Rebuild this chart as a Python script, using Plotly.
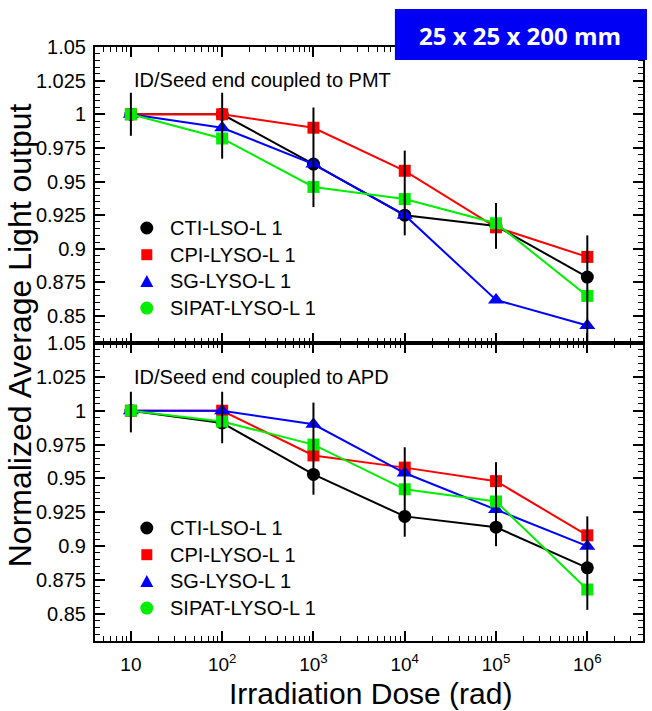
import plotly.graph_objects as go
from plotly.subplots import make_subplots

# ---------------- data ----------------
dose = [10, 100, 1000, 1e4, 1e5, 1e6]
series_names = ["CTI-LSO-L 1", "CPI-LYSO-L 1", "SG-LYSO-L 1", "SIPAT-LYSO-L 1"]

# Top panel: ID/Seed end coupled to PMT
pmt_cti = [1.000, 1.000, 0.963, 0.925, 0.917, 0.879]
pmt_cpi = [1.000, 1.000, 0.990, 0.958, 0.916, 0.894]
pmt_sg = [1.000, 0.990, 0.963, 0.925, 0.862, 0.843]
pmt_sipat = [1.000, 0.982, 0.946, 0.937, 0.919, 0.865]
pmt_err_top = [1.016, 1.016, 1.005, 0.973, 0.934, 0.910]
pmt_err_bottom = [0.984, 0.967, 0.931, 0.910, 0.900, 0.831]

# Bottom panel: ID/Seed end coupled to APD
apd_cti = [1.000, 0.991, 0.953, 0.922, 0.914, 0.884]
apd_cpi = [1.000, 1.000, 0.967, 0.958, 0.948, 0.908]
apd_sg = [1.000, 1.000, 0.990, 0.954, 0.927, 0.900]
apd_sipat = [1.000, 0.992, 0.975, 0.942, 0.933, 0.868]
apd_err_top = [1.014, 1.014, 1.006, 0.973, 0.962, 0.922]
apd_err_bottom = [0.984, 0.976, 0.938, 0.907, 0.900, 0.853]

panel_labels = ["ID/Seed end coupled to PMT", "ID/Seed end coupled to APD"]
y_tick_vals = [0.85, 0.875, 0.9, 0.925, 0.95, 0.975, 1.0, 1.025, 1.05]
y_tick_text = ["0.85", "0.875", "0.9", "0.925", "0.95", "0.975", "1", "1.025", "1.05"]
x_tick_vals = [10, 100, 1000, 1e4, 1e5, 1e6]
x_tick_text = ["10", "10<sup>2</sup>", "10<sup>3</sup>", "10<sup>4</sup>", "10<sup>5</sup>", "10<sup>6</sup>"]
box_text = "25 x 25 x 200 mm"
x_title = "Irradiation Dose (rad)"
y_title = "Normalized Average Light output"

# ---------------- styling ----------------
colors = ["#000000", "#ff0000", "#0000ff", "#00ee00"]
plot_symbols = ["circle", "square", "triangle-up", "square"]
plot_sizes = [13, 12, 14, 12]
legend_shapes = ["circle", "square", "triangle", "circle"]
FONT = "Liberation Sans, Arial, sans-serif"

W, H = 652, 711
L, R, T, B = 95, 645, 47, 641


def px_x(px):
    return (px - L) / (R - L)


def px_y(py):
    return (B - py) / (B - T)


split = px_y(343)

fig = make_subplots(rows=2, cols=1, shared_xaxes=True, vertical_spacing=0)

panels = [
    (1, [pmt_cti, pmt_cpi, pmt_sg, pmt_sipat], pmt_err_top, pmt_err_bottom),
    (2, [apd_cti, apd_cpi, apd_sg, apd_sipat], apd_err_top, apd_err_bottom),
]

for row, data, etop, ebot in panels:
    for name, vals, col, sym, sz in zip(series_names, data, colors, plot_symbols, plot_sizes):
        fig.add_trace(
            go.Scatter(
                x=dose, y=vals, mode="lines+markers", name=name, showlegend=False,
                line=dict(color=col, width=2),
                marker=dict(symbol=sym, size=sz, color=col, line=dict(width=0)),
            ),
            row=row, col=1,
        )
    center = data[0]
    fig.add_trace(
        go.Scatter(
            x=dose, y=center, mode="markers", showlegend=False, hoverinfo="skip",
            marker=dict(size=1, color="rgba(0,0,0,0)"),
            error_y=dict(
                type="data", symmetric=False,
                array=[t - c for t, c in zip(etop, center)],
                arrayminus=[c - b for c, b in zip(center, ebot)],
                color="black", thickness=2, width=0,
            ),
        ),
        row=row, col=1,
    )

minor_x = [k * 10 ** d for d in range(0, 7) for k in range(2, 10) if 4.05 <= k * 10 ** d <= 4.0e6]

xaxis_common = dict(
    type="log", range=[0.607, 6.61], showline=True, linecolor="black", linewidth=2,
    mirror="allticks", ticks="inside", ticklen=10, tickwidth=1.5, tickcolor="black",
    tickmode="array", tickvals=x_tick_vals, ticktext=x_tick_text,
    minor=dict(tickmode="array", tickvals=minor_x, ticks="inside", ticklen=5,
               tickwidth=1.2, tickcolor="black", showgrid=False),
    showgrid=False, zeroline=False,
    tickfont=dict(family=FONT, size=19, color="black"),
)
yaxis_common = dict(
    range=[0.83, 1.05], showline=True, linecolor="black", linewidth=2,
    mirror="allticks", ticks="inside", ticklen=10, tickwidth=1.5, tickcolor="black",
    tickmode="array", tickvals=y_tick_vals, ticktext=y_tick_text,
    minor=dict(tick0=0.85, dtick=0.005, ticks="inside", ticklen=5, tickwidth=1.2,
               tickcolor="black", showgrid=False),
    showgrid=False, zeroline=False, ticklabelstandoff=3,
    tickfont=dict(family=FONT, size=20, color="black"),
)

fig.update_layout(
    xaxis=dict(**xaxis_common, showticklabels=False),
    xaxis2=dict(**xaxis_common, showticklabels=True, ticklabelstandoff=5),
    yaxis=dict(**yaxis_common, domain=[split, 1]),
    yaxis2=dict(**yaxis_common, domain=[0, split]),
)

annotations = []
shapes = []

# panel labels
for lab, ypix in zip(panel_labels, [80, 377]):
    annotations.append(dict(
        text=lab, xref="paper", yref="paper", x=px_x(132), y=px_y(ypix),
        xanchor="left", yanchor="middle", showarrow=False,
        font=dict(family=FONT, size=20, color="black"),
    ))

# manual legends
for y0 in [228, 528]:
    for i, (name, col, shp) in enumerate(zip(series_names, colors, legend_shapes)):
        yc = y0 + 26.7 * i
        base = dict(xref="paper", yref="paper", xsizemode="pixel", ysizemode="pixel",
                    xanchor=px_x(147), yanchor=px_y(yc), fillcolor=col,
                    line=dict(width=0), layer="above")
        if shp == "circle":
            shapes.append(dict(type="circle", x0=-6.5, x1=6.5, y0=-6.5, y1=6.5, **base))
        elif shp == "square":
            shapes.append(dict(type="rect", x0=-5.5, x1=5.5, y0=-5.5, y1=5.5, **base))
        else:
            shapes.append(dict(type="path", path="M -6.5,-5.5 L 6.5,-5.5 L 0,6.5 Z", **base))
        annotations.append(dict(
            text=name, xref="paper", yref="paper", x=px_x(168), y=px_y(yc),
            xanchor="left", yanchor="middle", showarrow=False,
            font=dict(family=FONT, size=20, color="black"),
        ))

# title box
shapes.append(dict(type="rect", xref="paper", yref="paper",
                   x0=px_x(396), x1=px_x(649), y0=px_y(60), y1=px_y(9),
                   fillcolor="#0000f5", line=dict(width=0), layer="above"))
annotations.append(dict(
    text="<b>" + box_text + "</b>", xref="paper", yref="paper",
    x=px_x(522), y=px_y(35), xanchor="center", yanchor="middle", showarrow=False,
    font=dict(family="Open Sans, sans-serif", size=24, color="white"),
))

# axis titles
annotations.append(dict(
    text=x_title, xref="paper", yref="paper", x=px_x(372), y=px_y(712),
    xanchor="center", yanchor="bottom", showarrow=False,
    font=dict(family=FONT, size=30, color="black"),
))
annotations.append(dict(
    text=y_title, xref="paper", yref="paper", x=px_x(20), y=px_y(335),
    xanchor="center", yanchor="middle", showarrow=False, textangle=-90,
    font=dict(family=FONT, size=32, color="black"),
))

fig.update_layout(
    width=W, height=H,
    margin=dict(l=L, r=W - R, t=T, b=H - B),
    paper_bgcolor="white", plot_bgcolor="white",
    showlegend=False,
    annotations=annotations, shapes=shapes,
)

fig.write_html("out.html")
